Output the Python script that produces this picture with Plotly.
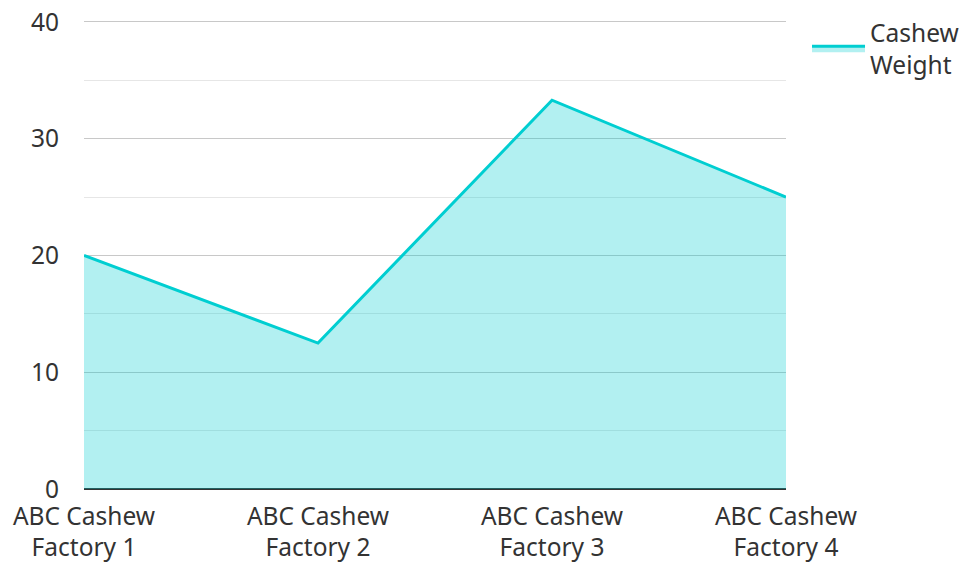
import plotly.graph_objects as go

categories = ["ABC Cashew<br>Factory 1", "ABC Cashew<br>Factory 2",
              "ABC Cashew<br>Factory 3", "ABC Cashew<br>Factory 4"]
weights = [20, 12.5, 33.3, 25]
series_name = "Cashew<br>Weight"

fig = go.Figure()
fig.add_trace(go.Scatter(
    x=list(range(len(categories))), y=weights, name=series_name,
    mode="lines", fill="tozeroy",
    line=dict(color="#00CED1", width=3),
    fillcolor="rgba(0,206,209,0.3)",
))

fig.update_layout(
    width=962, height=563,
    margin=dict(l=84, r=176, t=18, b=74),
    paper_bgcolor="white", plot_bgcolor="white",
    font=dict(family="Noto Sans", size=24.5, color="#333333"),
    showlegend=True,
    legend=dict(xref="container", yref="container", x=0.8389, y=0.9822,
                xanchor="left", yanchor="top",
                font=dict(size=24.5, color="#333333"), itemwidth=53),
    xaxis=dict(range=[0, 3], tickmode="array", automargin=False,
               tickvals=list(range(len(categories))), ticktext=categories,
               showgrid=False, zeroline=False, showline=False, ticks="",
               ticklabelstandoff=10),
    yaxis=dict(range=[0, 40.34], tickvals=[0, 10, 20, 30, 40], showgrid=True,
               gridcolor="#c8c8c8", automargin=False, ticklabeloverflow="allow",
               gridwidth=1, zeroline=True, zerolinecolor="#333333",
               zerolinewidth=2, ticks="", ticklabelstandoff=24,
               minor=dict(tickvals=[5, 15, 25, 35], showgrid=True,
                          gridcolor="#e6e6e6")),
)

fig.write_html("out.html", config={"displayModeBar": False},
               post_script="document.body.style.margin='0';document.body.style.overflow='hidden';")
